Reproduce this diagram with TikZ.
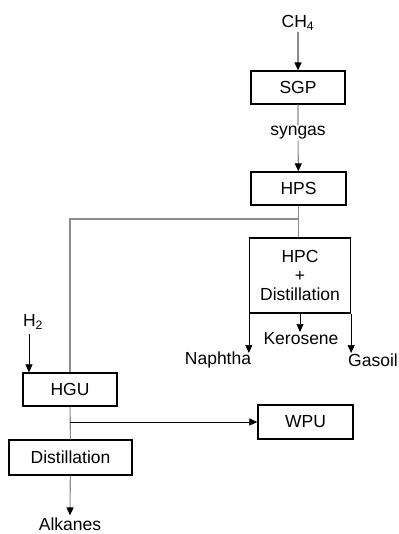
\documentclass[tikz,border=0pt]{standalone}
\usepackage{fontspec}
\setmainfont{Liberation Sans}
\usetikzlibrary{arrows.meta,positioning,calc}
\tikzset{unit/.style={draw,line width=1.3pt,minimum height=33pt,inner sep=2pt,font=\fontsize{17.5}{20}\selectfont},
  lbl/.style={inner sep=1pt,font=\fontsize{17.5}{20}\selectfont},
  feed/.style={draw=black!45,line width=1.1pt},
  tip/.style={-{Triangle[length=8pt,width=7pt,color=black]}}}
\begin{document}
\begin{tikzpicture}[x=1pt,y=-1pt]
\useasboundingbox (0,0) rectangle (398,534);
\node (ch4) at (298,23)[lbl] {CH\textsubscript{4}};
\node (sgp) at (298,87.5)[unit,minimum width=94pt] {SGP};
\node (syn) at (298,133)[lbl] {syngas};
\node (hps) at (298.5,188.5)[unit,minimum width=95pt] {HPS};
\node (hpc) at (300,275.5)[unit,minimum width=101pt,minimum height=75pt,align=center] {HPC\\[-1pt]+\\[-1pt]Distillation};
\node (hgu) at (70,389.5)[unit,minimum width=94pt] {HGU};
\node (h2) at (33,322)[lbl] {H\textsubscript{2}};
\node (wpu) at (305.5,422)[unit,minimum width=95pt,minimum height=34pt] {WPU};
\node (dis) at (70.5,457.5)[unit,minimum width=123pt,minimum height=35pt] {Distillation};
\node (alk) at (70,524)[lbl] {Alkanes};
\node (nap) at (218,360)[lbl] {Naphtha};
\node (ker) at (301,339)[lbl] {Kerosene};
\node (gas) at (373,360)[lbl] {Gasoil};

\coordinate (split) at (hps.south |- 0,219);
\coordinate (h2a) at (29,334);
\coordinate (wpujoin) at (70,422);
\coordinate (n1) at (hpc.south west |- 0,353);
\coordinate (k1) at (hpc.south |- 0,332);
\coordinate (g1) at (hpc.south east |- 0,353);

\draw[feed,tip] (ch4) -- (sgp);
\draw[feed,tip] (sgp) -- (syn) -- (hps);
\draw[feed] (hps) -- (split) -- (hps.south |- hpc.north);
\draw[feed] (split) -| (hgu);
\draw[feed] (hgu) -- (dis);
\draw[feed,tip] (dis) -- ($(alk.north)+(0,-1)$);
\draw[tip,line width=0.7pt] (wpujoin) -- (wpu);
\draw[tip,line width=0.7pt] (h2a) -- (h2a |- hgu.north);
\draw[tip,line width=0.7pt] (hpc.south west) -- (n1);
\draw[tip,line width=0.7pt] (hpc.south) -- (k1);
\draw[tip,line width=0.7pt] (hpc.south east) -- (g1);
\end{tikzpicture}
\end{document}
